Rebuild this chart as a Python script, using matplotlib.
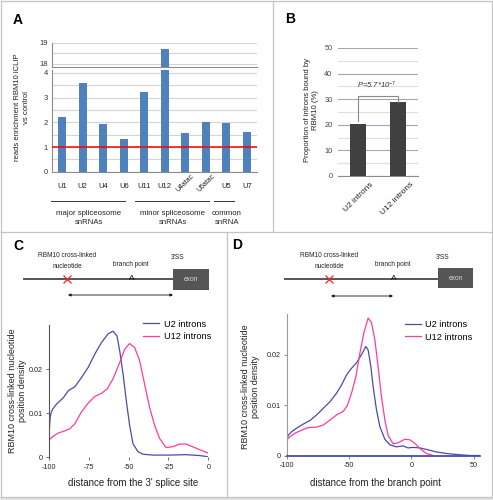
import matplotlib
matplotlib.use("Agg")
import matplotlib.pyplot as plt
from matplotlib.patches import Rectangle
from matplotlib.transforms import blended_transform_factory

plt.rcParams['font.family'] = ['Liberation Sans', 'DejaVu Sans']
plt.rcParams['axes.unicode_minus'] = False
plt.rcParams['mathtext.fontset'] = 'custom'
plt.rcParams['mathtext.rm'] = 'Liberation Sans'
plt.rcParams['mathtext.it'] = 'Liberation Sans:italic'

# ---------------- data ----------------
snrna = ['U1', 'U2', 'U4', 'U6', 'U11', 'U12', 'U4atac', 'U6atac', 'U5', 'U7']
enrichment = [2.23, 3.61, 1.94, 1.33, 3.22, 18.7, 1.55, 2.0, 1.97, 1.61]
groups = ['major spliceosome\nsnRNAs', 'minor spliceosome\nsnRNAs', 'common\nsnRNA']

intron_types = ['U2 introns', 'U12 introns']
bound_pct = [20.4, 28.9]
p_label = r'P=5.7*10$^{\mathit{-7}}$'

c_u2_x = [-100, -99.8, -99.3, -98.5, -97.5, -95.2, -91.0, -87.9, -83.75, -79.6, -75.4,
          -71.25, -67.1, -62.9, -59.8, -57.3, -55.6, -53.5, -51.5, -49.4, -47.3,
          -44.2, -41.0, -34.8, -24.4, -14.0, -5.6, -1.5, 0]
c_u2_y = [0.0, 0.006, 0.009, 0.0103, 0.011, 0.0121, 0.0135, 0.0151, 0.016, 0.0181, 0.0204,
          0.0234, 0.026, 0.028, 0.0286, 0.0275, 0.0241, 0.0189, 0.0129, 0.0073, 0.0031,
          0.0013, 0.0007, 0.0005, 0.0005, 0.0006, 0.0004, 0.0002, 0.0001]
c_u12_x = [-100, -97.3, -94.2, -90, -86.9, -83.75, -79.6, -75.4, -71.25, -67.1, -63.5,
           -59.8, -55.6, -52.5, -49.4, -46.25, -43.1, -40, -36.9, -33.75, -30.6,
           -26.5, -22.3, -18.1, -14, -9.8, -4.6, -0.4]
c_u12_y = [0.0039, 0.0048, 0.0055, 0.006, 0.0065, 0.0076, 0.0103, 0.0123, 0.0138, 0.0145,
           0.0155, 0.0178, 0.0215, 0.0245, 0.0258, 0.0249, 0.0219, 0.0166, 0.0114,
           0.0073, 0.0043, 0.0022, 0.0024, 0.003, 0.003, 0.0024, 0.0016, 0.001]

d_u2_x = [-100, -98.7, -96, -92, -86.7, -81.3, -76, -70.7, -65.3, -60, -56, -52, -48,
          -44, -40, -36.5, -34.7, -32.5, -30.7, -28, -25.3, -21.3, -17.3, -12, -6.7,
          -2.7, 1.3, 6.7, 12, 20, 28, 36, 46.7, 55]
d_u2_y = [0.0032, 0.0041, 0.0048, 0.0055, 0.0063, 0.007, 0.0081, 0.0094, 0.0107, 0.0124,
          0.014, 0.016, 0.0173, 0.0184, 0.02, 0.0216, 0.0209, 0.0176, 0.0137, 0.0091,
          0.0058, 0.0033, 0.0022, 0.0018, 0.002, 0.0016, 0.0017, 0.0016, 0.0013,
          0.0008, 0.0005, 0.0003, 0.0001, 0.0001]
d_u12_x = [-100, -97.3, -93.3, -88, -82.7, -76, -70.7, -65.3, -60, -54.7, -51.5, -48,
           -44.5, -41.3, -37.9, -34.7, -32, -29.3, -26.7, -24, -21.3, -18.7, -14.7,
           -10.7, -5.3, -1.3, 2.7, 6.7, 12, 17.3]
d_u12_y = [0.0032, 0.0038, 0.0045, 0.0051, 0.0056, 0.0057, 0.0061, 0.0071, 0.0081,
           0.0088, 0.0099, 0.0124, 0.0157, 0.0203, 0.0245, 0.0272, 0.0263, 0.0229,
           0.0176, 0.0117, 0.0071, 0.0041, 0.0024, 0.0026, 0.0033, 0.0032, 0.0025,
           0.0015, 0.0005, 0.0001]

BAR_BLUE = '#4f81bd'
BAR_DARK = '#404040'
C_U2 = '#4b4ba8'
C_U12 = '#ff3c9e'
GRID = '#d4d4d4'
BORDER = '#c4c4c4'

W, H = 493, 500
fig = plt.figure(figsize=(W / 100, H / 100), dpi=100)
fig.patch.set_facecolor('white')


def px_axes(x0, y0, x1, y1):
    a = fig.add_axes([x0 / W, 1 - y1 / H, (x1 - x0) / W, (y1 - y0) / H])
    a.set_facecolor('none')
    return a


# ---------------- Panel A ----------------
xa = list(range(len(snrna)))
axU = px_axes(52, 42.5, 257, 67)
axL = px_axes(52, 70, 257, 171.7)
for a in (axU, axL):
    a.bar(xa, enrichment, width=0.4, color=BAR_BLUE, zorder=3)
    a.set_xlim(-0.5, len(snrna) - 0.5)
    for s in ('top', 'right'):
        a.spines[s].set_visible(False)
    a.spines['left'].set_color('#8c8c8c')
    a.spines['bottom'].set_color('#8c8c8c')
    a.spines['left'].set_linewidth(0.8)
    a.spines['bottom'].set_linewidth(0.8)
    a.tick_params(axis='y', labelsize=5.5, length=0, pad=3, colors='#333333')
    a.tick_params(axis='x', length=0)
axU.set_ylim(17.85, 19)
axU.set_yticks([18, 19])
axU.set_yticks([18.5, 19], minor=True)
axU.tick_params(axis='y', which='minor', length=0)
axU.grid(True, axis='y', which='both', color=GRID, lw=0.8, zorder=0)
axU.set_xticks([])
axL.set_ylim(0, 4.12)
axL.set_yticks([0, 1, 2, 3, 4])
axL.set_yticks([0.5, 1.5, 2.5, 3.5, 4], minor=True)
axL.tick_params(axis='y', which='minor', length=0)
axL.grid(True, axis='y', which='both', color=GRID, lw=0.8, zorder=0)
axL.axhline(1, color='#ff0000', lw=1.1, zorder=4)
axL.set_xticks(xa)
axL.set_xticklabels([s if 'atac' not in s else '' for s in snrna], fontsize=5.5,
                    color='#222222')
axL.tick_params(axis='x', pad=8)
trA = blended_transform_factory(axL.transData, axL.transAxes)
for i, s in enumerate(snrna):
    if 'atac' in s:
        axL.text(i + 0.28, -0.01, s, transform=trA, rotation=45, ha='right', va='top',
                 rotation_mode='anchor', fontsize=5, color='#222222')

# ---------------- Panel B ----------------
axB = px_axes(338, 48, 418, 176)
xb = [0, 1]
axB.bar(xb, bound_pct, width=0.42, color=BAR_DARK, zorder=3)
axB.set_xlim(-0.5, 1.5)
axB.set_ylim(0, 50)
axB.set_yticks([0, 10, 20, 30, 40, 50])
axB.set_yticks([5, 15, 25, 35, 45], minor=True)
axB.grid(True, axis='y', which='major', color='#a8a8a8', lw=0.8, zorder=0)
axB.grid(True, axis='y', which='minor', color='#eadcd3', lw=0.8, zorder=0)
for s in ('top', 'right', 'left'):
    axB.spines[s].set_visible(False)
axB.spines['bottom'].set_color('#8c8c8c')
axB.tick_params(axis='y', which='both', length=0, labelsize=5.3, pad=4, colors='#444444')
axB.set_xticks([])
trB = blended_transform_factory(axB.transData, axB.transAxes)
for i, lab in enumerate(intron_types):
    axB.text(i + 0.3, -0.04, lab, transform=trB, rotation=45, ha='right', va='top',
             rotation_mode='anchor', fontsize=6, color='#222222')
br_top = 31.1
axB.plot([xb[0], xb[0], xb[1], xb[1]], [bound_pct[0] + 1.2, br_top, br_top, bound_pct[1]],
         color='#8a8a8a', lw=0.8, zorder=4)
axB.text(0.47, br_top + 2.0, p_label, ha='center', va='bottom', fontsize=5.5,
         style='italic', color='#333333', zorder=5)

# ---------------- Panel C ----------------
axC = px_axes(49, 325, 208.3, 457.3)
axC.plot(c_u2_x, c_u2_y, color=C_U2, lw=0.9, label='U2 introns')
axC.plot(c_u12_x, c_u12_y, color=C_U12, lw=0.9, label='U12 introns')
axC.set_xlim(-100, 0)
axC.set_ylim(0, 0.03)
axC.set_xticks([-100, -75, -50, -25, 0])
axC.set_xticklabels(['-100', '-75', '-50', '-25', '0'])
axC.set_yticks([0, 0.01, 0.02])
axC.set_yticklabels(['0', '0.01', '0.02'])
for s in ('top', 'right'):
    axC.spines[s].set_visible(False)
axC.spines['bottom'].set_visible(False)
axC.spines['left'].set_color('#555555')
axC.spines['left'].set_linewidth(0.8)
axC.tick_params(labelsize=5.2, length=2, width=0.6, colors='#555555', labelcolor='#222222',
                pad=2.5)
axC.legend(loc='upper left', bbox_to_anchor=(0.59, 1.04), frameon=False, fontsize=6.6,
           handlelength=1.8, handletextpad=0.45, labelspacing=0.35, borderpad=0,
           borderaxespad=0)

# ---------------- Panel D ----------------
axD = px_axes(286.7, 314, 480, 456)
axD.plot(d_u2_x, d_u2_y, color=C_U2, lw=0.9, label='U2 introns')
axD.plot(d_u12_x, d_u12_y, color=C_U12, lw=0.9, label='U12 introns')
axD.set_xlim(-100, 55)
axD.set_ylim(0, 0.028)
axD.set_xticks([-100, -50, 0, 50])
axD.set_xticklabels(['-100', '-50', '0', '50'])
axD.set_yticks([0, 0.01, 0.02])
axD.set_yticklabels(['0', '0.01', '0.02'])
for s in ('top', 'right'):
    axD.spines[s].set_visible(False)
axD.spines['bottom'].set_color(C_U2)
axD.spines['bottom'].set_linewidth(1.3)
axD.spines['left'].set_color('#9a9a9a')
axD.spines['left'].set_linewidth(0.8)
axD.tick_params(labelsize=5.2, length=2, width=0.6, colors='#777777', labelcolor='#222222',
                pad=2.5)
axD.legend(loc='upper left', bbox_to_anchor=(0.61, 0.955), frameon=False, fontsize=6.6,
           handlelength=1.8, handletextpad=0.45, labelspacing=0.35, borderpad=0,
           borderaxespad=0)

# ---------------- overlay: frames, labels, diagrams ----------------
ov = fig.add_axes([0, 0, 1, 1])
ov.set_xlim(0, W)
ov.set_ylim(H, 0)
ov.axis('off')
ov.patch.set_alpha(0)

# frame
ov.plot([0.8, 491.5, 491.5, 0.8, 0.8], [0.8, 0.8, 497, 497, 0.8], color=BORDER, lw=0.9)
ov.plot([0.8, 491.5], [232, 232], color=BORDER, lw=0.9)
ov.plot([273, 273], [0.8, 232], color=BORDER, lw=0.9)
ov.plot([227, 227], [232, 497], color=BORDER, lw=0.9)
ov.add_patch(Rectangle((0, 497), W, 3, fc='#e2e2e2', ec='none'))

# panel letters
for t, (x, y) in zip('ABCD', [(18, 20), (290, 19), (18, 246), (237, 245)]):
    ov.text(x, y, t, fontsize=10, fontweight='bold', ha='center', va='center')

# axis labels
ov.text(22, 107, 'reads enrichment RBM10 iCLIP\nvs control', rotation=90, ha='center',
        va='center', fontsize=5.5, linespacing=1.35, color='#222222')
ov.text(311.5, 110, 'Proportion of introns bound by\nRBM10 (%)', rotation=90, ha='center',
        va='center', fontsize=5.6, linespacing=1.3, color='#222222')
ov.text(17.5, 391, 'RBM10 cross-linked nucleotide\nposition density', rotation=90,
        ha='center', va='center', fontsize=6.5, linespacing=1.05, color='#222222')
ov.text(250.5, 387, 'RBM10 cross-linked nucleotide\nposition density', rotation=90,
        ha='center', va='center', fontsize=6.5, linespacing=1.05, color='#222222')
ov.text(133, 483, "distance from the 3' splice site", ha='center', va='center',
        fontsize=7, color='#222222')
ov.text(375, 483, 'distance from the branch point', ha='center', va='center',
        fontsize=7, color='#222222')

# group brackets panel A
for (x0, x1), lab, xc in zip([(51, 125), (135, 209), (214, 234)], groups, [89, 173, 227]):
    ov.plot([x0, x1], [200.5, 200.5], color='#333333', lw=0.7)
    ov.text(xc, 218, lab, ha='center', va='center', fontsize=5.6, linespacing=1.3,
            color='#222222')


def diagram(x_start, x_exon, exon_w, exon_top, exon_h, x_cross, x_bp, y_line,
            arrow_from, arrow_to, y_arrow, x_ss):
    ov.plot([x_start, x_exon], [y_line, y_line], color='#555555', lw=1.4)
    ov.add_patch(Rectangle((x_exon, exon_top), exon_w, exon_h, fc='#555555', ec='none'))
    ov.text(x_exon + exon_w / 2, exon_top + exon_h / 2, 'exon', ha='center', va='center',
            fontsize=4.8, color='#d8d8d8')
    ov.plot(x_cross, y_line, marker='x', ms=5.5, mew=0.9, color='#ff2020')
    ov.text(x_bp, y_line - 0.5, 'A', ha='center', va='center', fontsize=6, color='#111111')
    ov.annotate('', xy=(arrow_from, y_arrow), xytext=(arrow_to, y_arrow),
                arrowprops=dict(arrowstyle='<|-|>', color='#111111', lw=0.6,
                                mutation_scale=4, shrinkA=0, shrinkB=0))
    ov.text(x_cross, y_line - 23.5, 'RBM10 cross-linked', ha='center', va='center',
            fontsize=4.7, color='#222222')
    ov.text(x_cross, y_line - 12.5, 'nucleotide', ha='center', va='center',
            fontsize=4.7, color='#222222')
    ov.text(x_bp - 1, y_line - 15, 'branch point', ha='center', va='center', fontsize=4.7,
            color='#222222')
    ov.text(x_ss, y_line - 21.5, "3'SS", ha='center', va='center', fontsize=4.8,
            color='#222222')


# panel C diagram: arrow spans cross-link to 3'SS
diagram(24, 173, 36, 269, 21, 67, 132, 279, 68, 173, 295, 178)
# panel D diagram: arrow spans cross-link to branch point
diagram(285, 438, 35, 268, 20, 329, 394, 279, 331, 393, 296, 443)

fig.savefig('out.png', dpi=100)
